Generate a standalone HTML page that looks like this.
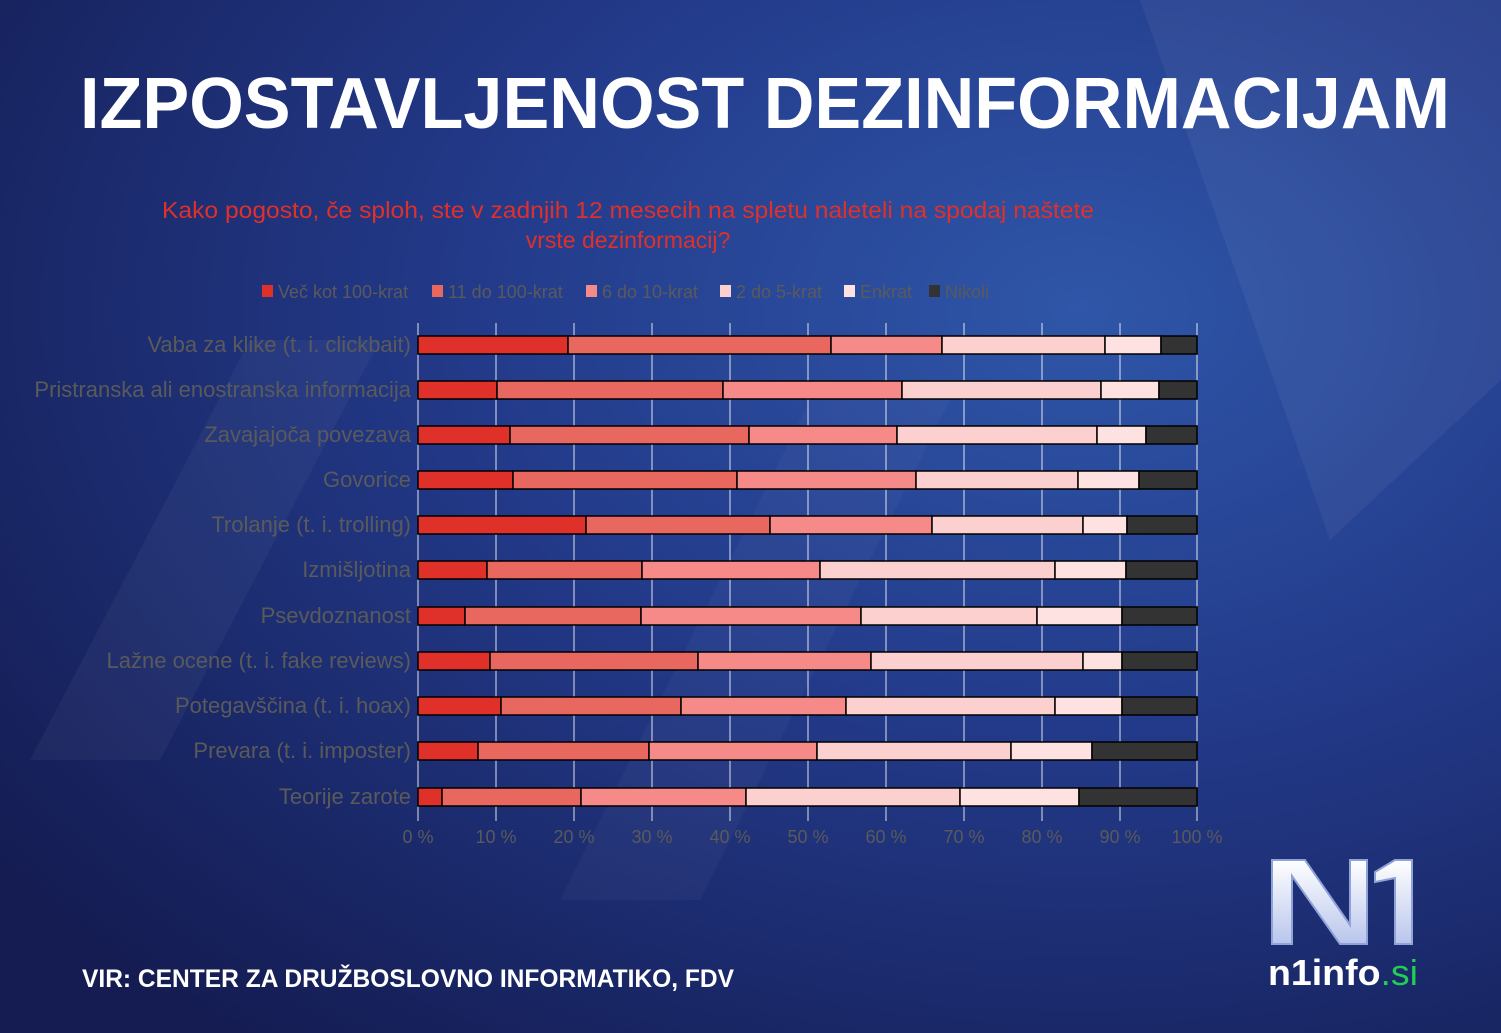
<!DOCTYPE html>
<html><head><meta charset="utf-8"><style>
html,body{margin:0;padding:0;width:1501px;height:1033px;overflow:hidden;background:#1c2a6e}
svg{display:block}
</style></head><body>
<svg width="1501" height="1033" viewBox="0 0 1501 1033" xmlns="http://www.w3.org/2000/svg" font-family="Liberation Sans, sans-serif">
<defs>
<radialGradient id="bg" cx="0.72" cy="0.3" r="0.9">
<stop offset="0" stop-color="#2f56a8"/>
<stop offset="0.45" stop-color="#233a8a"/>
<stop offset="1" stop-color="#141c52"/>
</radialGradient>
<linearGradient id="lg" x1="0" y1="0" x2="0" y2="1">
<stop offset="0" stop-color="#ffffff"/><stop offset="1" stop-color="#b9c6ec"/>
</linearGradient>
</defs>
<rect width="1501" height="1033" fill="url(#bg)"/>
<polygon points="1140,0 1501,0 1501,380 1330,540" fill="#ffffff" opacity="0.05"/>
<polygon points="30,760 250,340 380,340 160,760" fill="#ffffff" opacity="0.04"/>
<polygon points="560,900 820,380 960,380 700,900" fill="#ffffff" opacity="0.03"/>
<text x="765" y="128" fill="#ffffff" font-size="72" font-weight="bold" text-anchor="middle" textLength="1370" lengthAdjust="spacingAndGlyphs">IZPOSTAVLJENOST DEZINFORMACIJAM</text>
<text x="628" y="218" fill="#e0302a" font-size="23" text-anchor="middle" textLength="932" lengthAdjust="spacingAndGlyphs">Kako pogosto, če sploh, ste v zadnjih 12 mesecih na spletu naleteli na spodaj naštete</text>
<text x="628" y="248" fill="#e0302a" font-size="23" text-anchor="middle">vrste dezinformacij?</text>
<g font-size="18" fill="#5a5a5a">
<rect x="262" y="285" width="11" height="12" fill="#e0302a"/><text x="278" y="298">Več kot 100-krat</text>
<rect x="432" y="285" width="11" height="12" fill="#e8675f"/><text x="448" y="298">11 do 100-krat</text>
<rect x="586" y="285" width="11" height="12" fill="#f58a88"/><text x="602" y="298">6 do 10-krat</text>
<rect x="720" y="285" width="11" height="12" fill="#fdd0d0"/><text x="736" y="298">2 do 5-krat</text>
<rect x="844" y="285" width="11" height="12" fill="#fee2e2"/><text x="860" y="298">Enkrat</text>
<rect x="929" y="285" width="11" height="12" fill="#333333"/><text x="945" y="298">Nikoli</text>
</g>
<g stroke="#ffffff" stroke-width="1" opacity="0.85">
<line x1="418" y1="323" x2="418" y2="821"/><line x1="496" y1="323" x2="496" y2="821"/><line x1="574" y1="323" x2="574" y2="821"/><line x1="652" y1="323" x2="652" y2="821"/><line x1="730" y1="323" x2="730" y2="821"/><line x1="808" y1="323" x2="808" y2="821"/><line x1="886" y1="323" x2="886" y2="821"/><line x1="964" y1="323" x2="964" y2="821"/><line x1="1042" y1="323" x2="1042" y2="821"/><line x1="1120" y1="323" x2="1120" y2="821"/><line x1="1197" y1="323" x2="1197" y2="821"/>
</g>
<g id="bars" stroke="#000" stroke-width="1.5"></g>
<g font-size="22" fill="#5a5a5a" text-anchor="end">
<text x="411" y="352">Vaba za klike (t. i. clickbait)</text>
<text x="411" y="397">Pristranska ali enostranska informacija</text>
<text x="411" y="442">Zavajajoča povezava</text>
<text x="411" y="487">Govorice</text>
<text x="411" y="532">Trolanje (t. i. trolling)</text>
<text x="411" y="577">Izmišljotina</text>
<text x="411" y="623">Psevdoznanost</text>
<text x="411" y="668">Lažne ocene (t. i. fake reviews)</text>
<text x="411" y="713">Potegavščina (t. i. hoax)</text>
<text x="411" y="758">Prevara (t. i. imposter)</text>
<text x="411" y="804">Teorije zarote</text>
</g>
<g font-size="18" fill="#5a5a5a" text-anchor="middle">
<text x="418" y="843">0 %</text><text x="496" y="843">10 %</text><text x="574" y="843">20 %</text><text x="652" y="843">30 %</text><text x="730" y="843">40 %</text><text x="808" y="843">50 %</text><text x="886" y="843">60 %</text><text x="964" y="843">70 %</text><text x="1042" y="843">80 %</text><text x="1120" y="843">90 %</text><text x="1197" y="843">100 %</text>
</g>
<text x="82" y="987" fill="#ffffff" font-size="25" font-weight="bold" textLength="652" lengthAdjust="spacingAndGlyphs">VIR: CENTER ZA DRUŽBOSLOVNO INFORMATIKO, FDV</text>
<path d="M1272,860 L1305,860 L1350,925 L1350,860 L1367,860 L1367,944 L1340,944 L1292,876 L1292,944 L1272,944 Z" fill="url(#lg)" stroke="#8fa3d8" stroke-width="2"/>
<path d="M1375,872 L1395,860 L1412,860 L1412,944 L1395,944 L1395,878 L1375,882 Z" fill="url(#lg)" stroke="#8fa3d8" stroke-width="2"/>
<text x="1268" y="985" fill="#ffffff" font-size="36" font-weight="bold" textLength="150" lengthAdjust="spacingAndGlyphs">n1info<tspan fill="#22cc55" font-weight="normal">.si</tspan></text>
<script>
var rows=[[568,831,942,1105,1161],[497,723,902,1101,1159],[510,749,897,1097,1146],[513,737,916,1078,1139],[586,770,932,1083,1127],[487,642,820,1055,1126],[465,641,861,1037,1122],[490,698,871,1083,1122],[501,681,846,1055,1122],[478,649,817,1011,1092],[442,581,746,960,1079]];
var ys=[345,390,435,480,525,570,616,661,706,751,797];
var cols=["#e0302a","#e8675f","#f58a88","#fdd0d0","#fee2e2","#333333"];
var g=document.getElementById("bars"),ns="http://www.w3.org/2000/svg";
rows.forEach(function(r,i){var b=[418].concat(r,[1197]);for(var k=0;k<6;k++){var e=document.createElementNS(ns,"rect");e.setAttribute("x",b[k]);e.setAttribute("y",ys[i]-9);e.setAttribute("width",b[k+1]-b[k]);e.setAttribute("height",18);e.setAttribute("fill",cols[k]);g.appendChild(e);}});
</script>
</svg>
</body></html>
